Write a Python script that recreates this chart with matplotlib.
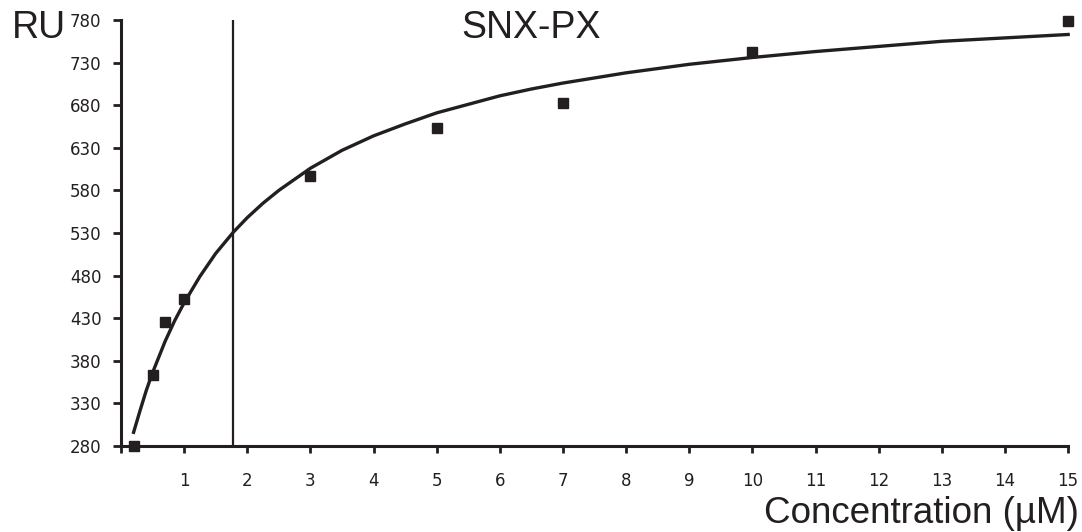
import numpy as np
from matplotlib import pyplot as plt

# measured points (concentration uM, response RU)
conc = [0.2, 0.5, 0.7, 1.0, 3.0, 5.0, 7.0, 10.0, 15.0]
ru = [280, 363, 426, 452, 597, 653, 682, 742, 779]

# fitted curve
fit_x = [0.2, 0.3, 0.4, 0.5, 0.7, 0.85, 1.0, 1.25, 1.5, 1.78, 2.0, 2.25, 2.5, 3.0,
         3.5, 4.0, 4.5, 5.0, 5.5, 6.0, 6.5, 7.0, 8.0, 9.0, 10.0, 11.0, 12.0,
         13.0, 14.0, 15.0]
fit_y = [296, 321, 345, 366, 403, 427, 448, 479, 506, 531, 548, 565, 580, 606,
         627, 644, 658, 671, 681, 691, 699, 706, 718, 728, 736, 743, 749,
         755, 759, 763]

kd = 1.78

x_ticks = list(range(0, 16))
x_labels = [''] + [str(i) for i in range(1, 16)]
y_ticks = list(range(280, 781, 50))

fig = plt.figure(figsize=(10.82, 5.32), dpi=100)
ax = fig.add_axes([0.1118, 0.1617, 0.9872 - 0.1118, 0.9624 - 0.1617])

ax.plot(fit_x, fit_y, color='#231f20', linewidth=2.4, clip_on=False)
ax.plot(conc, ru, 's', color='#231f20', markersize=6.5, clip_on=False)
ax.axvline(kd, color='#231f20', linewidth=1.6)

ax.set_xlim(0, 15)
ax.set_ylim(280, 780)
ax.spines['top'].set_visible(False)
ax.spines['right'].set_visible(False)
for s in ['left', 'bottom']:
    ax.spines[s].set_linewidth(2.2)
    ax.spines[s].set_color('#231f20')

ax.set_xticks(x_ticks)
ax.set_xticklabels(x_labels, fontsize=12, family='DejaVu Sans', color='#231f20')
ax.set_yticks(y_ticks)
ax.set_yticklabels([str(v) for v in y_ticks], fontsize=12, family='DejaVu Sans', color='#231f20')
ax.tick_params(axis='x', length=5, width=2, color='#231f20', pad=14)
ax.tick_params(axis='y', length=6, width=2, color='#231f20', pad=8)

fig.text(0.011, 0.928, 'RU', fontsize=27, family='Liberation Sans', color='#231f20', va='baseline')
fig.text(0.491, 0.928, 'SNX-PX', fontsize=27, family='Liberation Sans', color='#231f20',
         va='baseline', ha='center')
fig.text(0.997, 0.016, 'Concentration (\u00b5M)', fontsize=26.5, family='Liberation Sans',
         color='#231f20', va='baseline', ha='right')

fig.savefig('out.png', dpi=100)
